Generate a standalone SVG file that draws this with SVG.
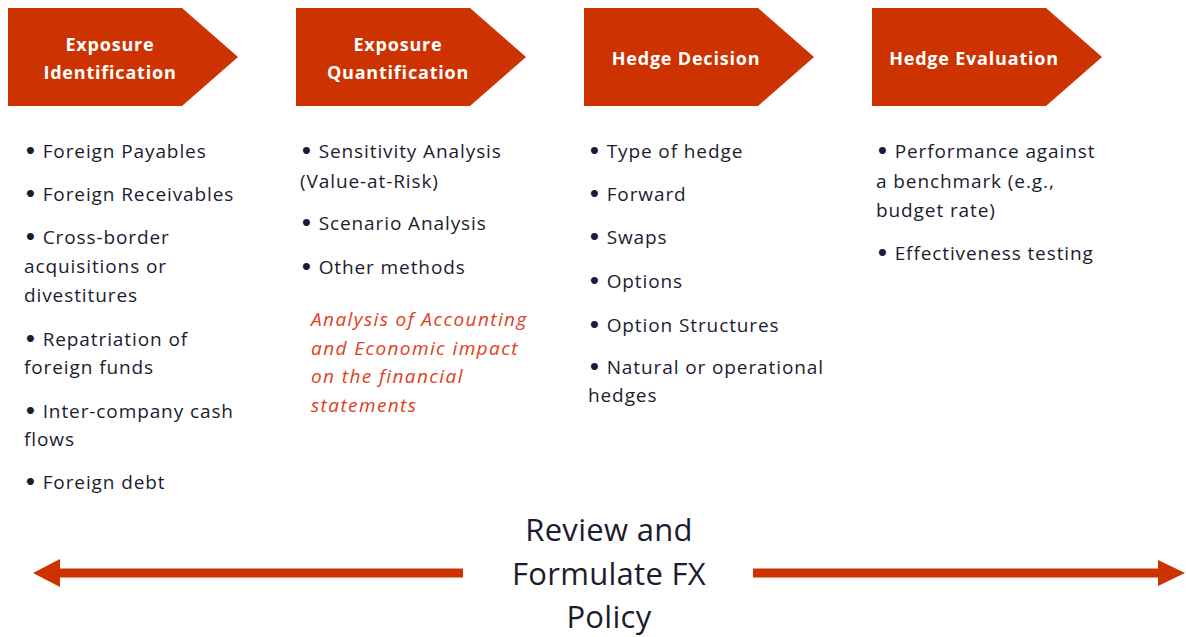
<svg xmlns="http://www.w3.org/2000/svg" width="1186" height="637" viewBox="0 0 1186 637">
<defs>
<style>
.chev{fill:#CC3300;}
.ht{font-family:"Open Sans","Liberation Sans",sans-serif;font-weight:bold;font-size:18px;letter-spacing:0.8px;fill:#ffffff;text-anchor:middle;}
.bt{font-family:"Open Sans","Liberation Sans",sans-serif;font-size:19px;letter-spacing:0.9px;fill:#1c1c30;}
.b{font-family:"DejaVu Sans",sans-serif;font-weight:bold;font-size:20px;letter-spacing:0;}
.it{font-family:"Open Sans","Liberation Sans",sans-serif;font-size:19px;letter-spacing:1.4px;font-style:italic;fill:#E04020;}
.big{font-family:"Open Sans","Liberation Sans",sans-serif;font-size:31px;letter-spacing:0.3px;fill:#1c1c30;text-anchor:middle;}
.arr{stroke:#CC3300;stroke-width:9;fill:none;}
.head{fill:#CC3300;}
</style>
</defs>
<rect width="1186" height="637" fill="#ffffff"/>
<g id="step1">
<polygon class="chev" points="8,8 182,8 238,57 182,106 8,106"/>
<text class="ht" x="110" y="51">Exposure</text>
<text class="ht" x="110" y="79">Identification</text>
</g>
<g id="step2">
<polygon class="chev" points="296,8 470,8 526,57 470,106 296,106"/>
<text class="ht" x="398" y="51">Exposure</text>
<text class="ht" x="398" y="79">Quantification</text>
</g>
<g id="step3">
<polygon class="chev" points="584,8 758,8 814,57 758,106 584,106"/>
<text class="ht" x="686" y="65">Hedge Decision</text>
</g>
<g id="step4">
<polygon class="chev" points="872,8 1046,8 1102,57 1046,106 872,106"/>
<text class="ht" x="974" y="65">Hedge Evaluation</text>
</g>
<g id="list1">
<text class="bt" x="24" y="158"><tspan class="b">•</tspan> Foreign Payables</text>
<text class="bt" x="24" y="201"><tspan class="b">•</tspan> Foreign Receivables</text>
<text class="bt" x="24" y="244"><tspan class="b">•</tspan> Cross-border</text>
<text class="bt" x="24" y="273">acquisitions or</text>
<text class="bt" x="24" y="302">divestitures</text>
<text class="bt" x="24" y="346"><tspan class="b">•</tspan> Repatriation of</text>
<text class="bt" x="24" y="374">foreign funds</text>
<text class="bt" x="24" y="418"><tspan class="b">•</tspan> Inter-company cash</text>
<text class="bt" x="24" y="446">flows</text>
<text class="bt" x="24" y="489"><tspan class="b">•</tspan> Foreign debt</text>
</g>
<g id="list2">
<text class="bt" x="300" y="158"><tspan class="b">•</tspan> Sensitivity Analysis</text>
<text class="bt" x="300" y="188">(Value-at-Risk)</text>
<text class="bt" x="300" y="230"><tspan class="b">•</tspan> Scenario Analysis</text>
<text class="bt" x="300" y="274"><tspan class="b">•</tspan> Other methods</text>
<text class="it" x="311" y="326">Analysis of Accounting</text>
<text class="it" x="311" y="355">and Economic impact</text>
<text class="it" x="311" y="383">on the financial</text>
<text class="it" x="311" y="412">statements</text>
</g>
<g id="list3">
<text class="bt" x="588" y="158"><tspan class="b">•</tspan> Type of hedge</text>
<text class="bt" x="588" y="201"><tspan class="b">•</tspan> Forward</text>
<text class="bt" x="588" y="244"><tspan class="b">•</tspan> Swaps</text>
<text class="bt" x="588" y="288"><tspan class="b">•</tspan> Options</text>
<text class="bt" x="588" y="332"><tspan class="b">•</tspan> Option Structures</text>
<text class="bt" x="588" y="374"><tspan class="b">•</tspan> Natural or operational</text>
<text class="bt" x="588" y="402">hedges</text>
</g>
<g id="list4">
<text class="bt" x="876" y="158"><tspan class="b">•</tspan> Performance against</text>
<text class="bt" x="876" y="188">a benchmark (e.g.,</text>
<text class="bt" x="876" y="217">budget rate)</text>
<text class="bt" x="876" y="260"><tspan class="b">•</tspan> Effectiveness testing</text>
</g>
<g id="policy">
<text class="big" x="609" y="541">Review and</text>
<text class="big" x="609" y="585">Formulate FX</text>
<text class="big" x="609" y="628">Policy</text>
</g>
<g id="connectors">
<line class="arr" x1="463" y1="573" x2="58" y2="573"/>
<polygon class="head" points="33,573 60,559 60,587"/>
<line class="arr" x1="753" y1="573" x2="1160" y2="573"/>
<polygon class="head" points="1185,573 1158,560 1158,586"/>
</g>
</svg>
